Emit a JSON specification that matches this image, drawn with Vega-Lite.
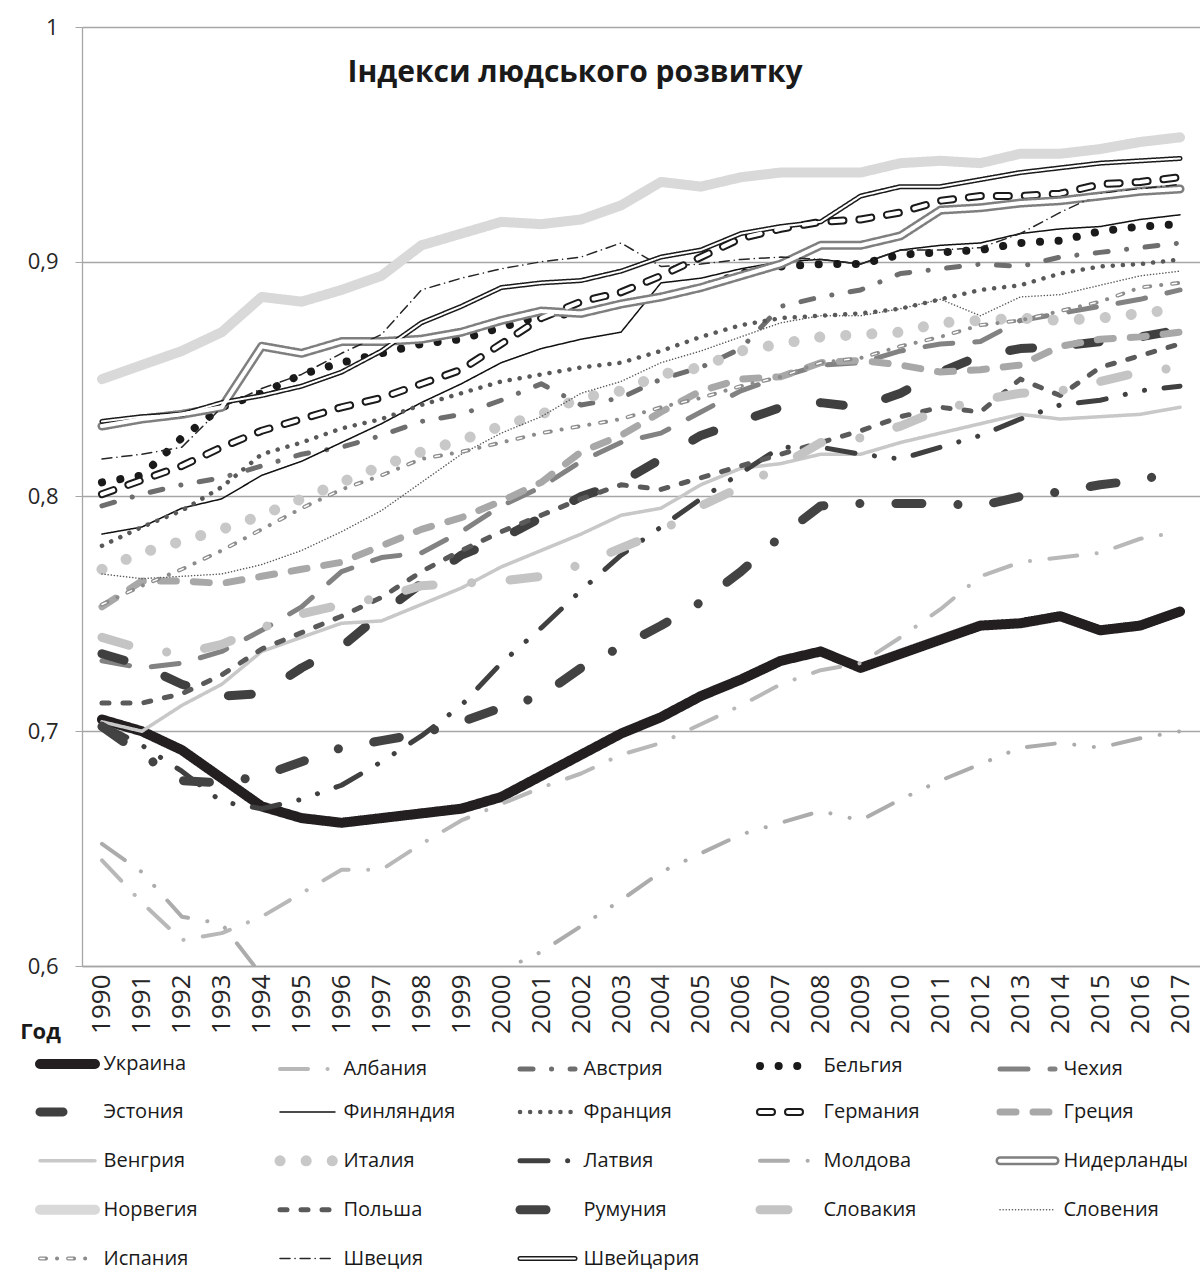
{
  "$schema": "https://vega.github.io/schema/vega-lite/v6.json",
  "autosize": {"type": "none"},
  "width": 1118,
  "height": 939,
  "padding": {"left": 82, "top": 27, "right": 0, "bottom": 311},
  "background": "white",
  "config": {
    "view": {"stroke": null},
    "font": "Open Sans",
    "axis": {"domainColor": "#a6a6a6", "gridColor": "#a6a6a6", "tickColor": "#a6a6a6", "gridWidth": 1.3, "domainWidth": 1.3, "labelColor": "#262626", "labelFont": "Open Sans", "titleFont": "Open Sans"}
  },
  "title": {"text": "Індекси людського розвитку", "frame": "group", "anchor": "middle", "dx": -66, "dy": 96, "offset": 0, "baseline": "alphabetic", "font": "Open Sans", "fontSize": 30, "fontWeight": "bold", "color": "#1a1a1a"},
  "data": {"values": [
{"country":"Украина","year":1990,"value":0.705},{"country":"Украина","year":1991,"value":0.700},{"country":"Украина","year":1992,"value":0.692},{"country":"Украина","year":1993,"value":0.680},{"country":"Украина","year":1994,"value":0.668},{"country":"Украина","year":1995,"value":0.663},{"country":"Украина","year":1996,"value":0.661},{"country":"Украина","year":1997,"value":0.663},{"country":"Украина","year":1998,"value":0.665},{"country":"Украина","year":1999,"value":0.667},{"country":"Украина","year":2000,"value":0.672},{"country":"Украина","year":2001,"value":0.681},{"country":"Украина","year":2002,"value":0.690},{"country":"Украина","year":2003,"value":0.699},{"country":"Украина","year":2004,"value":0.706},{"country":"Украина","year":2005,"value":0.715},{"country":"Украина","year":2006,"value":0.722},{"country":"Украина","year":2007,"value":0.730},{"country":"Украина","year":2008,"value":0.734},{"country":"Украина","year":2009,"value":0.727},{"country":"Украина","year":2010,"value":0.733},{"country":"Украина","year":2011,"value":0.739},{"country":"Украина","year":2012,"value":0.745},{"country":"Украина","year":2013,"value":0.746},{"country":"Украина","year":2014,"value":0.749},{"country":"Украина","year":2015,"value":0.743},{"country":"Украина","year":2016,"value":0.745},{"country":"Украина","year":2017,"value":0.751},
{"country":"Албания","year":1990,"value":0.645},{"country":"Албания","year":1991,"value":0.627},{"country":"Албания","year":1992,"value":0.611},{"country":"Албания","year":1993,"value":0.614},{"country":"Албания","year":1994,"value":0.621},{"country":"Албания","year":1995,"value":0.631},{"country":"Албания","year":1996,"value":0.641},{"country":"Албания","year":1997,"value":0.641},{"country":"Албания","year":1998,"value":0.652},{"country":"Албания","year":1999,"value":0.662},{"country":"Албания","year":2000,"value":0.669},{"country":"Албания","year":2001,"value":0.676},{"country":"Албания","year":2002,"value":0.682},{"country":"Албания","year":2003,"value":0.690},{"country":"Албания","year":2004,"value":0.695},{"country":"Албания","year":2005,"value":0.703},{"country":"Албания","year":2006,"value":0.711},{"country":"Албания","year":2007,"value":0.720},{"country":"Албания","year":2008,"value":0.726},{"country":"Албания","year":2009,"value":0.729},{"country":"Албания","year":2010,"value":0.740},{"country":"Албания","year":2011,"value":0.752},{"country":"Албания","year":2012,"value":0.766},{"country":"Албания","year":2013,"value":0.772},{"country":"Албания","year":2014,"value":0.774},{"country":"Албания","year":2015,"value":0.776},{"country":"Албания","year":2016,"value":0.782},{"country":"Албания","year":2017,"value":0.785},
{"country":"Австрия","year":1990,"value":0.796},{"country":"Австрия","year":1991,"value":0.801},{"country":"Австрия","year":1992,"value":0.805},{"country":"Австрия","year":1993,"value":0.808},{"country":"Австрия","year":1994,"value":0.813},{"country":"Австрия","year":1995,"value":0.818},{"country":"Австрия","year":1996,"value":0.821},{"country":"Австрия","year":1997,"value":0.826},{"country":"Австрия","year":1998,"value":0.832},{"country":"Австрия","year":1999,"value":0.835},{"country":"Австрия","year":2000,"value":0.841},{"country":"Австрия","year":2001,"value":0.848},{"country":"Австрия","year":2002,"value":0.839},{"country":"Австрия","year":2003,"value":0.842},{"country":"Австрия","year":2004,"value":0.850},{"country":"Австрия","year":2005,"value":0.855},{"country":"Австрия","year":2006,"value":0.863},{"country":"Австрия","year":2007,"value":0.881},{"country":"Австрия","year":2008,"value":0.885},{"country":"Австрия","year":2009,"value":0.888},{"country":"Австрия","year":2010,"value":0.895},{"country":"Австрия","year":2011,"value":0.897},{"country":"Австрия","year":2012,"value":0.899},{"country":"Австрия","year":2013,"value":0.898},{"country":"Австрия","year":2014,"value":0.902},{"country":"Австрия","year":2015,"value":0.904},{"country":"Австрия","year":2016,"value":0.906},{"country":"Австрия","year":2017,"value":0.908},
{"country":"Бельгия","year":1990,"value":0.806},{"country":"Бельгия","year":1991,"value":0.809},{"country":"Бельгия","year":1992,"value":0.825},{"country":"Бельгия","year":1993,"value":0.838},{"country":"Бельгия","year":1994,"value":0.844},{"country":"Бельгия","year":1995,"value":0.852},{"country":"Бельгия","year":1996,"value":0.857},{"country":"Бельгия","year":1997,"value":0.861},{"country":"Бельгия","year":1998,"value":0.865},{"country":"Бельгия","year":1999,"value":0.867},{"country":"Бельгия","year":2000,"value":0.872},{"country":"Бельгия","year":2001,"value":0.877},{"country":"Бельгия","year":2002,"value":0.878},{"country":"Бельгия","year":2003,"value":0.882},{"country":"Бельгия","year":2004,"value":0.885},{"country":"Бельгия","year":2005,"value":0.889},{"country":"Бельгия","year":2006,"value":0.895},{"country":"Бельгия","year":2007,"value":0.898},{"country":"Бельгия","year":2008,"value":0.899},{"country":"Бельгия","year":2009,"value":0.899},{"country":"Бельгия","year":2010,"value":0.903},{"country":"Бельгия","year":2011,"value":0.904},{"country":"Бельгия","year":2012,"value":0.905},{"country":"Бельгия","year":2013,"value":0.908},{"country":"Бельгия","year":2014,"value":0.909},{"country":"Бельгия","year":2015,"value":0.913},{"country":"Бельгия","year":2016,"value":0.915},{"country":"Бельгия","year":2017,"value":0.916},
{"country":"Чехия","year":1990,"value":0.730},{"country":"Чехия","year":1991,"value":0.727},{"country":"Чехия","year":1992,"value":0.729},{"country":"Чехия","year":1993,"value":0.734},{"country":"Чехия","year":1994,"value":0.743},{"country":"Чехия","year":1995,"value":0.753},{"country":"Чехия","year":1996,"value":0.768},{"country":"Чехия","year":1997,"value":0.774},{"country":"Чехия","year":1998,"value":0.776},{"country":"Чехия","year":1999,"value":0.785},{"country":"Чехия","year":2000,"value":0.796},{"country":"Чехия","year":2001,"value":0.804},{"country":"Чехия","year":2002,"value":0.815},{"country":"Чехия","year":2003,"value":0.823},{"country":"Чехия","year":2004,"value":0.827},{"country":"Чехия","year":2005,"value":0.836},{"country":"Чехия","year":2006,"value":0.845},{"country":"Чехия","year":2007,"value":0.851},{"country":"Чехия","year":2008,"value":0.856},{"country":"Чехия","year":2009,"value":0.857},{"country":"Чехия","year":2010,"value":0.862},{"country":"Чехия","year":2011,"value":0.865},{"country":"Чехия","year":2012,"value":0.866},{"country":"Чехия","year":2013,"value":0.875},{"country":"Чехия","year":2014,"value":0.878},{"country":"Чехия","year":2015,"value":0.881},{"country":"Чехия","year":2016,"value":0.884},{"country":"Чехия","year":2017,"value":0.888},
{"country":"Эстония","year":1990,"value":0.733},{"country":"Эстония","year":1991,"value":0.728},{"country":"Эстония","year":1992,"value":0.720},{"country":"Эстония","year":1993,"value":0.715},{"country":"Эстония","year":1994,"value":0.716},{"country":"Эстония","year":1995,"value":0.727},{"country":"Эстония","year":1996,"value":0.736},{"country":"Эстония","year":1997,"value":0.750},{"country":"Эстония","year":1998,"value":0.763},{"country":"Эстония","year":1999,"value":0.775},{"country":"Эстония","year":2000,"value":0.782},{"country":"Эстония","year":2001,"value":0.791},{"country":"Эстония","year":2002,"value":0.800},{"country":"Эстония","year":2003,"value":0.806},{"country":"Эстония","year":2004,"value":0.816},{"country":"Эстония","year":2005,"value":0.826},{"country":"Эстония","year":2006,"value":0.832},{"country":"Эстония","year":2007,"value":0.838},{"country":"Эстония","year":2008,"value":0.840},{"country":"Эстония","year":2009,"value":0.838},{"country":"Эстония","year":2010,"value":0.844},{"country":"Эстония","year":2011,"value":0.853},{"country":"Эстония","year":2012,"value":0.860},{"country":"Эстония","year":2013,"value":0.863},{"country":"Эстония","year":2014,"value":0.864},{"country":"Эстония","year":2015,"value":0.866},{"country":"Эстония","year":2016,"value":0.868},{"country":"Эстония","year":2017,"value":0.871},
{"country":"Финляндия","year":1990,"value":0.784},{"country":"Финляндия","year":1991,"value":0.787},{"country":"Финляндия","year":1992,"value":0.795},{"country":"Финляндия","year":1993,"value":0.799},{"country":"Финляндия","year":1994,"value":0.809},{"country":"Финляндия","year":1995,"value":0.815},{"country":"Финляндия","year":1996,"value":0.823},{"country":"Финляндия","year":1997,"value":0.831},{"country":"Финляндия","year":1998,"value":0.840},{"country":"Финляндия","year":1999,"value":0.848},{"country":"Финляндия","year":2000,"value":0.857},{"country":"Финляндия","year":2001,"value":0.863},{"country":"Финляндия","year":2002,"value":0.867},{"country":"Финляндия","year":2003,"value":0.870},{"country":"Финляндия","year":2004,"value":0.891},{"country":"Финляндия","year":2005,"value":0.893},{"country":"Финляндия","year":2006,"value":0.897},{"country":"Финляндия","year":2007,"value":0.900},{"country":"Финляндия","year":2008,"value":0.901},{"country":"Финляндия","year":2009,"value":0.899},{"country":"Финляндия","year":2010,"value":0.905},{"country":"Финляндия","year":2011,"value":0.907},{"country":"Финляндия","year":2012,"value":0.908},{"country":"Финляндия","year":2013,"value":0.912},{"country":"Финляндия","year":2014,"value":0.914},{"country":"Финляндия","year":2015,"value":0.915},{"country":"Финляндия","year":2016,"value":0.918},{"country":"Финляндия","year":2017,"value":0.920},
{"country":"Франция","year":1990,"value":0.779},{"country":"Франция","year":1991,"value":0.787},{"country":"Франция","year":1992,"value":0.794},{"country":"Франция","year":1993,"value":0.804},{"country":"Франция","year":1994,"value":0.818},{"country":"Франция","year":1995,"value":0.823},{"country":"Франция","year":1996,"value":0.829},{"country":"Франция","year":1997,"value":0.833},{"country":"Франция","year":1998,"value":0.839},{"country":"Франция","year":1999,"value":0.844},{"country":"Франция","year":2000,"value":0.849},{"country":"Франция","year":2001,"value":0.852},{"country":"Франция","year":2002,"value":0.855},{"country":"Франция","year":2003,"value":0.857},{"country":"Франция","year":2004,"value":0.862},{"country":"Франция","year":2005,"value":0.868},{"country":"Франция","year":2006,"value":0.873},{"country":"Франция","year":2007,"value":0.876},{"country":"Франция","year":2008,"value":0.877},{"country":"Франция","year":2009,"value":0.878},{"country":"Франция","year":2010,"value":0.880},{"country":"Франция","year":2011,"value":0.884},{"country":"Франция","year":2012,"value":0.888},{"country":"Франция","year":2013,"value":0.890},{"country":"Франция","year":2014,"value":0.895},{"country":"Франция","year":2015,"value":0.898},{"country":"Франция","year":2016,"value":0.899},{"country":"Франция","year":2017,"value":0.901},
{"country":"Германия","year":1990,"value":0.801},{"country":"Германия","year":1991,"value":0.807},{"country":"Германия","year":1992,"value":0.813},{"country":"Германия","year":1993,"value":0.821},{"country":"Германия","year":1994,"value":0.828},{"country":"Германия","year":1995,"value":0.833},{"country":"Германия","year":1996,"value":0.838},{"country":"Германия","year":1997,"value":0.842},{"country":"Германия","year":1998,"value":0.848},{"country":"Германия","year":1999,"value":0.854},{"country":"Германия","year":2000,"value":0.865},{"country":"Германия","year":2001,"value":0.876},{"country":"Германия","year":2002,"value":0.883},{"country":"Германия","year":2003,"value":0.887},{"country":"Германия","year":2004,"value":0.894},{"country":"Германия","year":2005,"value":0.902},{"country":"Германия","year":2006,"value":0.910},{"country":"Германия","year":2007,"value":0.914},{"country":"Германия","year":2008,"value":0.917},{"country":"Германия","year":2009,"value":0.918},{"country":"Германия","year":2010,"value":0.921},{"country":"Германия","year":2011,"value":0.926},{"country":"Германия","year":2012,"value":0.928},{"country":"Германия","year":2013,"value":0.928},{"country":"Германия","year":2014,"value":0.929},{"country":"Германия","year":2015,"value":0.933},{"country":"Германия","year":2016,"value":0.934},{"country":"Германия","year":2017,"value":0.936},
{"country":"Греция","year":1990,"value":0.753},{"country":"Греция","year":1991,"value":0.764},{"country":"Греция","year":1992,"value":0.764},{"country":"Греция","year":1993,"value":0.763},{"country":"Греция","year":1994,"value":0.766},{"country":"Греция","year":1995,"value":0.769},{"country":"Греция","year":1996,"value":0.772},{"country":"Греция","year":1997,"value":0.779},{"country":"Греция","year":1998,"value":0.786},{"country":"Греция","year":1999,"value":0.791},{"country":"Греция","year":2000,"value":0.798},{"country":"Греция","year":2001,"value":0.806},{"country":"Греция","year":2002,"value":0.819},{"country":"Греция","year":2003,"value":0.826},{"country":"Греция","year":2004,"value":0.836},{"country":"Греция","year":2005,"value":0.845},{"country":"Греция","year":2006,"value":0.850},{"country":"Греция","year":2007,"value":0.851},{"country":"Греция","year":2008,"value":0.857},{"country":"Греция","year":2009,"value":0.858},{"country":"Греция","year":2010,"value":0.856},{"country":"Греция","year":2011,"value":0.853},{"country":"Греция","year":2012,"value":0.854},{"country":"Греция","year":2013,"value":0.856},{"country":"Греция","year":2014,"value":0.864},{"country":"Греция","year":2015,"value":0.867},{"country":"Греция","year":2016,"value":0.868},{"country":"Греция","year":2017,"value":0.870},
{"country":"Венгрия","year":1990,"value":0.704},{"country":"Венгрия","year":1991,"value":0.700},{"country":"Венгрия","year":1992,"value":0.711},{"country":"Венгрия","year":1993,"value":0.720},{"country":"Венгрия","year":1994,"value":0.734},{"country":"Венгрия","year":1995,"value":0.740},{"country":"Венгрия","year":1996,"value":0.746},{"country":"Венгрия","year":1997,"value":0.747},{"country":"Венгрия","year":1998,"value":0.754},{"country":"Венгрия","year":1999,"value":0.761},{"country":"Венгрия","year":2000,"value":0.770},{"country":"Венгрия","year":2001,"value":0.777},{"country":"Венгрия","year":2002,"value":0.784},{"country":"Венгрия","year":2003,"value":0.792},{"country":"Венгрия","year":2004,"value":0.795},{"country":"Венгрия","year":2005,"value":0.805},{"country":"Венгрия","year":2006,"value":0.812},{"country":"Венгрия","year":2007,"value":0.814},{"country":"Венгрия","year":2008,"value":0.818},{"country":"Венгрия","year":2009,"value":0.818},{"country":"Венгрия","year":2010,"value":0.823},{"country":"Венгрия","year":2011,"value":0.827},{"country":"Венгрия","year":2012,"value":0.831},{"country":"Венгрия","year":2013,"value":0.835},{"country":"Венгрия","year":2014,"value":0.833},{"country":"Венгрия","year":2015,"value":0.834},{"country":"Венгрия","year":2016,"value":0.835},{"country":"Венгрия","year":2017,"value":0.838},
{"country":"Италия","year":1990,"value":0.769},{"country":"Италия","year":1991,"value":0.776},{"country":"Италия","year":1992,"value":0.781},{"country":"Италия","year":1993,"value":0.786},{"country":"Италия","year":1994,"value":0.792},{"country":"Италия","year":1995,"value":0.799},{"country":"Италия","year":1996,"value":0.806},{"country":"Италия","year":1997,"value":0.813},{"country":"Италия","year":1998,"value":0.819},{"country":"Италия","year":1999,"value":0.824},{"country":"Италия","year":2000,"value":0.830},{"country":"Италия","year":2001,"value":0.835},{"country":"Италия","year":2002,"value":0.842},{"country":"Италия","year":2003,"value":0.845},{"country":"Италия","year":2004,"value":0.852},{"country":"Италия","year":2005,"value":0.855},{"country":"Италия","year":2006,"value":0.862},{"country":"Италия","year":2007,"value":0.865},{"country":"Италия","year":2008,"value":0.868},{"country":"Италия","year":2009,"value":0.869},{"country":"Италия","year":2010,"value":0.870},{"country":"Италия","year":2011,"value":0.874},{"country":"Италия","year":2012,"value":0.875},{"country":"Италия","year":2013,"value":0.876},{"country":"Италия","year":2014,"value":0.875},{"country":"Италия","year":2015,"value":0.876},{"country":"Италия","year":2016,"value":0.878},{"country":"Италия","year":2017,"value":0.880},
{"country":"Латвия","year":1990,"value":0.703},{"country":"Латвия","year":1991,"value":0.694},{"country":"Латвия","year":1992,"value":0.683},{"country":"Латвия","year":1993,"value":0.670},{"country":"Латвия","year":1994,"value":0.667},{"country":"Латвия","year":1995,"value":0.671},{"country":"Латвия","year":1996,"value":0.677},{"country":"Латвия","year":1997,"value":0.687},{"country":"Латвия","year":1998,"value":0.698},{"country":"Латвия","year":1999,"value":0.711},{"country":"Латвия","year":2000,"value":0.729},{"country":"Латвия","year":2001,"value":0.744},{"country":"Латвия","year":2002,"value":0.760},{"country":"Латвия","year":2003,"value":0.775},{"country":"Латвия","year":2004,"value":0.787},{"country":"Латвия","year":2005,"value":0.799},{"country":"Латвия","year":2006,"value":0.810},{"country":"Латвия","year":2007,"value":0.821},{"country":"Латвия","year":2008,"value":0.821},{"country":"Латвия","year":2009,"value":0.818},{"country":"Латвия","year":2010,"value":0.816},{"country":"Латвия","year":2011,"value":0.821},{"country":"Латвия","year":2012,"value":0.826},{"country":"Латвия","year":2013,"value":0.833},{"country":"Латвия","year":2014,"value":0.839},{"country":"Латвия","year":2015,"value":0.841},{"country":"Латвия","year":2016,"value":0.845},{"country":"Латвия","year":2017,"value":0.847},
{"country":"Молдова","year":1990,"value":0.652},{"country":"Молдова","year":1991,"value":0.640},{"country":"Молдова","year":1992,"value":0.621},{"country":"Молдова","year":1993,"value":0.618},{"country":"Молдова","year":1994,"value":0.596},{"country":"Молдова","year":1995,"value":0.592},{"country":"Молдова","year":1996,"value":0.590},{"country":"Молдова","year":1997,"value":0.591},{"country":"Молдова","year":1998,"value":0.591},{"country":"Молдова","year":1999,"value":0.589},{"country":"Молдова","year":2000,"value":0.598},{"country":"Молдова","year":2001,"value":0.606},{"country":"Молдова","year":2002,"value":0.617},{"country":"Молдова","year":2003,"value":0.628},{"country":"Молдова","year":2004,"value":0.640},{"country":"Молдова","year":2005,"value":0.648},{"country":"Молдова","year":2006,"value":0.656},{"country":"Молдова","year":2007,"value":0.661},{"country":"Молдова","year":2008,"value":0.666},{"country":"Молдова","year":2009,"value":0.662},{"country":"Молдова","year":2010,"value":0.671},{"country":"Молдова","year":2011,"value":0.679},{"country":"Молдова","year":2012,"value":0.686},{"country":"Молдова","year":2013,"value":0.693},{"country":"Молдова","year":2014,"value":0.695},{"country":"Молдова","year":2015,"value":0.693},{"country":"Молдова","year":2016,"value":0.697},{"country":"Молдова","year":2017,"value":0.700},
{"country":"Нидерланды","year":1990,"value":0.830},{"country":"Нидерланды","year":1991,"value":0.833},{"country":"Нидерланды","year":1992,"value":0.835},{"country":"Нидерланды","year":1993,"value":0.838},{"country":"Нидерланды","year":1994,"value":0.864},{"country":"Нидерланды","year":1995,"value":0.861},{"country":"Нидерланды","year":1996,"value":0.866},{"country":"Нидерланды","year":1997,"value":0.866},{"country":"Нидерланды","year":1998,"value":0.867},{"country":"Нидерланды","year":1999,"value":0.870},{"country":"Нидерланды","year":2000,"value":0.875},{"country":"Нидерланды","year":2001,"value":0.879},{"country":"Нидерланды","year":2002,"value":0.878},{"country":"Нидерланды","year":2003,"value":0.882},{"country":"Нидерланды","year":2004,"value":0.885},{"country":"Нидерланды","year":2005,"value":0.889},{"country":"Нидерланды","year":2006,"value":0.894},{"country":"Нидерланды","year":2007,"value":0.899},{"country":"Нидерланды","year":2008,"value":0.907},{"country":"Нидерланды","year":2009,"value":0.907},{"country":"Нидерланды","year":2010,"value":0.911},{"country":"Нидерланды","year":2011,"value":0.922},{"country":"Нидерланды","year":2012,"value":0.923},{"country":"Нидерланды","year":2013,"value":0.925},{"country":"Нидерланды","year":2014,"value":0.926},{"country":"Нидерланды","year":2015,"value":0.928},{"country":"Нидерланды","year":2016,"value":0.930},{"country":"Нидерланды","year":2017,"value":0.931},
{"country":"Норвегия","year":1990,"value":0.850},{"country":"Норвегия","year":1991,"value":0.856},{"country":"Норвегия","year":1992,"value":0.862},{"country":"Норвегия","year":1993,"value":0.870},{"country":"Норвегия","year":1994,"value":0.885},{"country":"Норвегия","year":1995,"value":0.883},{"country":"Норвегия","year":1996,"value":0.888},{"country":"Норвегия","year":1997,"value":0.894},{"country":"Норвегия","year":1998,"value":0.907},{"country":"Норвегия","year":1999,"value":0.912},{"country":"Норвегия","year":2000,"value":0.917},{"country":"Норвегия","year":2001,"value":0.916},{"country":"Норвегия","year":2002,"value":0.918},{"country":"Норвегия","year":2003,"value":0.924},{"country":"Норвегия","year":2004,"value":0.934},{"country":"Норвегия","year":2005,"value":0.932},{"country":"Норвегия","year":2006,"value":0.936},{"country":"Норвегия","year":2007,"value":0.938},{"country":"Норвегия","year":2008,"value":0.938},{"country":"Норвегия","year":2009,"value":0.938},{"country":"Норвегия","year":2010,"value":0.942},{"country":"Норвегия","year":2011,"value":0.943},{"country":"Норвегия","year":2012,"value":0.942},{"country":"Норвегия","year":2013,"value":0.946},{"country":"Норвегия","year":2014,"value":0.946},{"country":"Норвегия","year":2015,"value":0.948},{"country":"Норвегия","year":2016,"value":0.951},{"country":"Норвегия","year":2017,"value":0.953},
{"country":"Польша","year":1990,"value":0.712},{"country":"Польша","year":1991,"value":0.712},{"country":"Польша","year":1992,"value":0.716},{"country":"Польша","year":1993,"value":0.724},{"country":"Польша","year":1994,"value":0.735},{"country":"Польша","year":1995,"value":0.742},{"country":"Польша","year":1996,"value":0.749},{"country":"Польша","year":1997,"value":0.757},{"country":"Польша","year":1998,"value":0.768},{"country":"Польша","year":1999,"value":0.777},{"country":"Польша","year":2000,"value":0.785},{"country":"Польша","year":2001,"value":0.792},{"country":"Польша","year":2002,"value":0.799},{"country":"Польша","year":2003,"value":0.805},{"country":"Польша","year":2004,"value":0.803},{"country":"Польша","year":2005,"value":0.808},{"country":"Польша","year":2006,"value":0.813},{"country":"Польша","year":2007,"value":0.818},{"country":"Польша","year":2008,"value":0.823},{"country":"Польша","year":2009,"value":0.828},{"country":"Польша","year":2010,"value":0.834},{"country":"Польша","year":2011,"value":0.838},{"country":"Польша","year":2012,"value":0.836},{"country":"Польша","year":2013,"value":0.850},{"country":"Польша","year":2014,"value":0.843},{"country":"Польша","year":2015,"value":0.855},{"country":"Польша","year":2016,"value":0.860},{"country":"Польша","year":2017,"value":0.865},
{"country":"Румуния","year":1990,"value":0.702},{"country":"Румуния","year":1991,"value":0.690},{"country":"Румуния","year":1992,"value":0.679},{"country":"Румуния","year":1993,"value":0.678},{"country":"Румуния","year":1994,"value":0.681},{"country":"Румуния","year":1995,"value":0.687},{"country":"Румуния","year":1996,"value":0.693},{"country":"Румуния","year":1997,"value":0.696},{"country":"Румуния","year":1998,"value":0.699},{"country":"Румуния","year":1999,"value":0.704},{"country":"Румуния","year":2000,"value":0.710},{"country":"Румуния","year":2001,"value":0.715},{"country":"Румуния","year":2002,"value":0.727},{"country":"Румуния","year":2003,"value":0.736},{"country":"Румуния","year":2004,"value":0.745},{"country":"Румуния","year":2005,"value":0.755},{"country":"Румуния","year":2006,"value":0.768},{"country":"Румуния","year":2007,"value":0.783},{"country":"Румуния","year":2008,"value":0.796},{"country":"Румуния","year":2009,"value":0.797},{"country":"Румуния","year":2010,"value":0.797},{"country":"Румуния","year":2011,"value":0.797},{"country":"Румуния","year":2012,"value":0.796},{"country":"Румуния","year":2013,"value":0.800},{"country":"Румуния","year":2014,"value":0.802},{"country":"Румуния","year":2015,"value":0.805},{"country":"Румуния","year":2016,"value":0.807},{"country":"Румуния","year":2017,"value":0.811},
{"country":"Словакия","year":1990,"value":0.740},{"country":"Словакия","year":1991,"value":0.735},{"country":"Словакия","year":1992,"value":0.733},{"country":"Словакия","year":1993,"value":0.737},{"country":"Словакия","year":1994,"value":0.744},{"country":"Словакия","year":1995,"value":0.750},{"country":"Словакия","year":1996,"value":0.754},{"country":"Словакия","year":1997,"value":0.757},{"country":"Словакия","year":1998,"value":0.762},{"country":"Словакия","year":1999,"value":0.763},{"country":"Словакия","year":2000,"value":0.764},{"country":"Словакия","year":2001,"value":0.766},{"country":"Словакия","year":2002,"value":0.771},{"country":"Словакия","year":2003,"value":0.778},{"country":"Словакия","year":2004,"value":0.785},{"country":"Словакия","year":2005,"value":0.796},{"country":"Словакия","year":2006,"value":0.804},{"country":"Словакия","year":2007,"value":0.813},{"country":"Словакия","year":2008,"value":0.823},{"country":"Словакия","year":2009,"value":0.825},{"country":"Словакия","year":2010,"value":0.830},{"country":"Словакия","year":2011,"value":0.837},{"country":"Словакия","year":2012,"value":0.841},{"country":"Словакия","year":2013,"value":0.844},{"country":"Словакия","year":2014,"value":0.845},{"country":"Словакия","year":2015,"value":0.849},{"country":"Словакия","year":2016,"value":0.853},{"country":"Словакия","year":2017,"value":0.855},
{"country":"Словения","year":1990,"value":0.767},{"country":"Словения","year":1991,"value":0.765},{"country":"Словения","year":1992,"value":0.766},{"country":"Словения","year":1993,"value":0.767},{"country":"Словения","year":1994,"value":0.771},{"country":"Словения","year":1995,"value":0.777},{"country":"Словения","year":1996,"value":0.785},{"country":"Словения","year":1997,"value":0.794},{"country":"Словения","year":1998,"value":0.806},{"country":"Словения","year":1999,"value":0.818},{"country":"Словения","year":2000,"value":0.827},{"country":"Словения","year":2001,"value":0.834},{"country":"Словения","year":2002,"value":0.844},{"country":"Словения","year":2003,"value":0.849},{"country":"Словения","year":2004,"value":0.857},{"country":"Словения","year":2005,"value":0.862},{"country":"Словения","year":2006,"value":0.868},{"country":"Словения","year":2007,"value":0.874},{"country":"Словения","year":2008,"value":0.877},{"country":"Словения","year":2009,"value":0.877},{"country":"Словения","year":2010,"value":0.880},{"country":"Словения","year":2011,"value":0.884},{"country":"Словения","year":2012,"value":0.877},{"country":"Словения","year":2013,"value":0.885},{"country":"Словения","year":2014,"value":0.886},{"country":"Словения","year":2015,"value":0.890},{"country":"Словения","year":2016,"value":0.894},{"country":"Словения","year":2017,"value":0.896},
{"country":"Испания","year":1990,"value":0.754},{"country":"Испания","year":1991,"value":0.762},{"country":"Испания","year":1992,"value":0.769},{"country":"Испания","year":1993,"value":0.777},{"country":"Испания","year":1994,"value":0.786},{"country":"Испания","year":1995,"value":0.795},{"country":"Испания","year":1996,"value":0.803},{"country":"Испания","year":1997,"value":0.809},{"country":"Испания","year":1998,"value":0.816},{"country":"Испания","year":1999,"value":0.819},{"country":"Испания","year":2000,"value":0.823},{"country":"Испания","year":2001,"value":0.827},{"country":"Испания","year":2002,"value":0.830},{"country":"Испания","year":2003,"value":0.833},{"country":"Испания","year":2004,"value":0.838},{"country":"Испания","year":2005,"value":0.842},{"country":"Испания","year":2006,"value":0.847},{"country":"Испания","year":2007,"value":0.851},{"country":"Испания","year":2008,"value":0.857},{"country":"Испания","year":2009,"value":0.859},{"country":"Испания","year":2010,"value":0.864},{"country":"Испания","year":2011,"value":0.868},{"country":"Испания","year":2012,"value":0.873},{"country":"Испания","year":2013,"value":0.875},{"country":"Испания","year":2014,"value":0.879},{"country":"Испания","year":2015,"value":0.883},{"country":"Испания","year":2016,"value":0.889},{"country":"Испания","year":2017,"value":0.891},
{"country":"Швеция","year":1990,"value":0.816},{"country":"Швеция","year":1991,"value":0.818},{"country":"Швеция","year":1992,"value":0.821},{"country":"Швеция","year":1993,"value":0.838},{"country":"Швеция","year":1994,"value":0.846},{"country":"Швеция","year":1995,"value":0.852},{"country":"Швеция","year":1996,"value":0.861},{"country":"Швеция","year":1997,"value":0.869},{"country":"Швеция","year":1998,"value":0.888},{"country":"Швеция","year":1999,"value":0.893},{"country":"Швеция","year":2000,"value":0.897},{"country":"Швеция","year":2001,"value":0.900},{"country":"Швеция","year":2002,"value":0.902},{"country":"Швеция","year":2003,"value":0.908},{"country":"Швеция","year":2004,"value":0.898},{"country":"Швеция","year":2005,"value":0.899},{"country":"Швеция","year":2006,"value":0.901},{"country":"Швеция","year":2007,"value":0.902},{"country":"Швеция","year":2008,"value":0.901},{"country":"Швеция","year":2009,"value":0.899},{"country":"Швеция","year":2010,"value":0.905},{"country":"Швеция","year":2011,"value":0.905},{"country":"Швеция","year":2012,"value":0.906},{"country":"Швеция","year":2013,"value":0.912},{"country":"Швеция","year":2014,"value":0.921},{"country":"Швеция","year":2015,"value":0.929},{"country":"Швеция","year":2016,"value":0.931},{"country":"Швеция","year":2017,"value":0.933},
{"country":"Швейцария","year":1990,"value":0.832},{"country":"Швейцария","year":1991,"value":0.834},{"country":"Швейцария","year":1992,"value":0.835},{"country":"Швейцария","year":1993,"value":0.840},{"country":"Швейцария","year":1994,"value":0.843},{"country":"Швейцария","year":1995,"value":0.847},{"country":"Швейцария","year":1996,"value":0.853},{"country":"Швейцария","year":1997,"value":0.862},{"country":"Швейцария","year":1998,"value":0.874},{"country":"Швейцария","year":1999,"value":0.881},{"country":"Швейцария","year":2000,"value":0.889},{"country":"Швейцария","year":2001,"value":0.891},{"country":"Швейцария","year":2002,"value":0.892},{"country":"Швейцария","year":2003,"value":0.896},{"country":"Швейцария","year":2004,"value":0.902},{"country":"Швейцария","year":2005,"value":0.905},{"country":"Швейцария","year":2006,"value":0.912},{"country":"Швейцария","year":2007,"value":0.915},{"country":"Швейцария","year":2008,"value":0.917},{"country":"Швейцария","year":2009,"value":0.928},{"country":"Швейцария","year":2010,"value":0.932},{"country":"Швейцария","year":2011,"value":0.932},{"country":"Швейцария","year":2012,"value":0.935},{"country":"Швейцария","year":2013,"value":0.938},{"country":"Швейцария","year":2014,"value":0.940},{"country":"Швейцария","year":2015,"value":0.942},{"country":"Швейцария","year":2016,"value":0.943},{"country":"Швейцария","year":2017,"value":0.944}
  ]},
  "encoding": {
    "x": {"field": "year", "type": "ordinal", "scale": {"type": "point", "padding": 0.5},
      "axis": {"labelAngle": -90, "labelFontSize": 26, "labelPadding": 8, "ticks": false, "domain": true, "grid": false,
        "title": "Год", "titleX": -42, "titleY": 72, "titleAngle": 0, "titleAlign": "center", "titleBaseline": "alphabetic", "titleFontSize": 22, "titleFontWeight": "bold", "titleColor": "#1a1a1a"}},
    "y": {"field": "value", "type": "quantitative", "scale": {"domain": [0.6, 1], "nice": false, "zero": false},
      "axis": {"values": [0.6, 0.7, 0.8, 0.9, 1], "grid": true, "tickSize": 7, "labelPadding": 17, "labelFontSize": 22, "title": null,
        "labelExpr": "replace(format(datum.value, '.1~f'), '.', ',')"}}
  },
  "layer": [
    {
      "mark": {"type": "line", "clip": true, "strokeCap": "round", "strokeJoin": "round"},
      "encoding": {
        "color": {"field": "country", "type": "nominal",
          "scale": {"domain": ["Украина","Албания","Австрия","Бельгия","Чехия","Эстония","Финляндия","Франция","Германия","Греция","Венгрия","Италия","Латвия","Молдова","Нидерланды","Норвегия","Польша","Румуния","Словакия","Словения","Испания","Швеция","Швейцария"],
            "range": ["#231f20","#b8b8b8","#6e6e6e","#1a1a1a","#828282","#404040","#111111","#595959","#1a1a1a","#a8a8a8","#c8c8c8","#c8c8c8","#404040","#acacac","#7f7f7f","#d9d9d9","#5a5a5a","#434343","#c4c4c4","#595959","#8c8c8c","#262626","#1a1a1a"]},
          "legend": {"title": null, "orient": "none", "direction": "horizontal", "legendX": -42, "legendY": 1026, "columns": 5, "gridAlign": "all", "columnPadding": 30, "rowPadding": 4.9, "padding": 0, "zindex": 1,
            "symbolType": "M-6.111,0L6.111,0", "symbolSize": 81, "symbolOffset": 17.5, "labelOffset": 26, "labelFont": "Open Sans", "labelFontSize": 20, "labelColor": "#1a1a1a", "labelLimit": 300, "symbolLimit": 0,
            "encode": {"symbols": {"update": {"strokeCap": {"value": "round"}}}}}},
        "strokeDash": {"field": "country", "type": "nominal",
          "scale": {"domain": ["Украина","Албания","Австрия","Бельгия","Чехия","Эстония","Финляндия","Франция","Германия","Греция","Венгрия","Италия","Латвия","Молдова","Нидерланды","Норвегия","Польша","Румуния","Словакия","Словения","Испания","Швеция","Швейцария"],
            "range": [[1,0],[28,19.5,0.1,19.5],[13,18.5,0.1,18.5],[0.1,18.5],[28,22],[23,44],[1,0],[0.1,10],[12,16],[16,17],[1,0],[0.1,26],[28,19.6,0.1,19.6,0.1,19.6],[28,19.6,0.1,19.6,0.1,19.6],[1,0],[1,0],[7,14],[26,36,0.1,36],[28,38.5,0.1,38.5],[0.1,3],[6,11,0.1,11],[10,5,0.1,5],[1,0]]}},
        "strokeWidth": {"field": "country", "type": "nominal",
          "scale": {"type": "ordinal", "domain": ["Украина","Албания","Австрия","Бельгия","Чехия","Эстония","Финляндия","Франция","Германия","Греция","Венгрия","Италия","Латвия","Молдова","Нидерланды","Норвегия","Польша","Румуния","Словакия","Словения","Испания","Швеция","Швейцария"],
            "range": [10,4,5,8,5,9,1.5,4.5,8,7,3.5,11,5,4,9,10,5,9,9,1.5,4,1.5,5]}}
      }
    },
    {
      "mark": {"type": "line", "clip": true, "strokeCap": "round", "strokeJoin": "round"},
      "encoding": {
        "color": {"field": "country", "type": "nominal",
          "scale": {"domain": ["Украина","Албания","Австрия","Бельгия","Чехия","Эстония","Финляндия","Франция","Германия","Греция","Венгрия","Италия","Латвия","Молдова","Нидерланды","Норвегия","Польша","Румуния","Словакия","Словения","Испания","Швеция","Швейцария"],
            "range": ["rgba(255,255,255,0)","rgba(255,255,255,0)","rgba(255,255,255,0)","rgba(255,255,255,0)","rgba(255,255,255,0)","rgba(255,255,255,0)","rgba(255,255,255,0)","rgba(255,255,255,0)","#ffffff","rgba(255,255,255,0)","rgba(255,255,255,0)","rgba(255,255,255,0)","rgba(255,255,255,0)","rgba(255,255,255,0)","#ffffff","rgba(255,255,255,0)","rgba(255,255,255,0)","rgba(255,255,255,0)","rgba(255,255,255,0)","rgba(255,255,255,0)","#ffffff","rgba(255,255,255,0)","#ffffff"]},
          "legend": {"title": null, "orient": "none", "direction": "horizontal", "legendX": -42, "legendY": 1026, "columns": 5, "gridAlign": "all", "columnPadding": 30, "rowPadding": 4.9, "padding": 0, "zindex": 2,
            "symbolType": "M-6.111,0L6.111,0", "symbolSize": 81, "symbolOffset": 17.5, "labelOffset": 26, "labelFont": "Open Sans", "labelFontSize": 20, "labelColor": "rgba(0,0,0,0)", "labelOpacity": 0, "labelLimit": 300, "symbolLimit": 0,
            "encode": {"symbols": {"update": {"strokeCap": {"value": "round"}}}}}},
        "strokeDash": {"field": "country", "type": "nominal",
          "scale": {"domain": ["Украина","Албания","Австрия","Бельгия","Чехия","Эстония","Финляндия","Франция","Германия","Греция","Венгрия","Италия","Латвия","Молдова","Нидерланды","Норвегия","Польша","Румуния","Словакия","Словения","Испания","Швеция","Швейцария"],
            "range": [[1,0],[1,0],[1,0],[1,0],[1,0],[1,0],[1,0],[1,0],[12,16],[1,0],[1,0],[1,0],[1,0],[1,0],[1,0],[1,0],[1,0],[1,0],[1,0],[1,0],[4.5,23.6],[1,0],[1,0]]}},
        "strokeWidth": {"field": "country", "type": "nominal",
          "scale": {"type": "ordinal", "domain": ["Украина","Албания","Австрия","Бельгия","Чехия","Эстония","Финляндия","Франция","Германия","Греция","Венгрия","Италия","Латвия","Молдова","Нидерланды","Норвегия","Польша","Румуния","Словакия","Словения","Испания","Швеция","Швейцария"],
            "range": [10,4,5,8,5,9,1.5,4.5,4,7,3.5,11,5,4,4,10,5,9,9,1.5,1.5,1.5,2]}}
      }
    }
  ],
  "resolve": {"scale": {"color": "independent", "strokeDash": "independent", "strokeWidth": "independent"}, "legend": {"color": "independent", "strokeDash": "independent", "strokeWidth": "independent"}}
}
